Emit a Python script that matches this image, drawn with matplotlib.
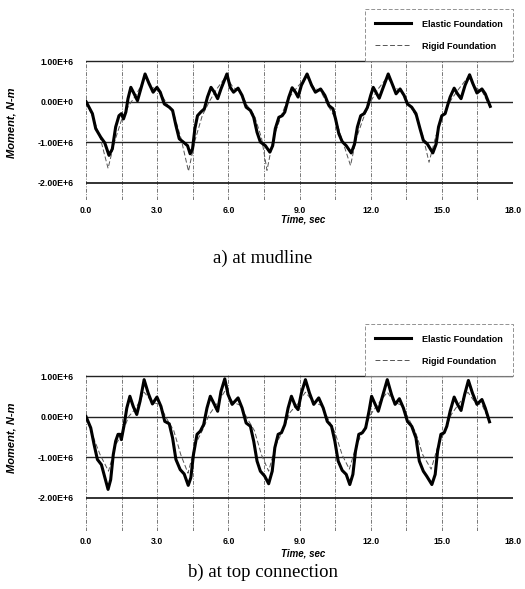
import numpy as np
import matplotlib
matplotlib.use("Agg")
import matplotlib.pyplot as plt

# ---- data (moment in 1e6 N-m) ----
t_elastic_top = [0.0, 0.27, 0.41, 0.62, 0.79, 0.97, 1.11, 1.25, 1.39, 1.49, 1.58, 1.68, 1.77, 1.89,
                 2.03, 2.17, 2.31, 2.49, 2.66, 2.83, 2.99, 3.13, 3.30, 3.51, 3.65, 3.79, 3.93, 4.10,
                 4.28, 4.39, 4.49, 4.59, 4.70, 4.84, 4.99, 5.12, 5.27, 5.41, 5.55, 5.69, 5.94, 6.08,
                 6.22, 6.41, 6.58, 6.75, 6.93, 7.07, 7.21, 7.35, 7.56, 7.75, 7.87, 7.98, 8.13, 8.27,
                 8.38, 8.55, 8.69, 8.83, 8.94, 9.08, 9.32, 9.51, 9.67, 9.89, 10.07, 10.24, 10.41,
                 10.52, 10.66, 10.80, 10.97, 11.18, 11.32, 11.44, 11.58, 11.72, 11.86, 12.0, 12.11,
                 12.36, 12.53, 12.74, 12.93, 13.07, 13.24, 13.41, 13.55, 13.73, 13.91, 14.08, 14.22,
                 14.39, 14.62, 14.76, 14.86, 15.0, 15.14, 15.24, 15.35, 15.52, 15.66, 15.81, 15.98,
                 16.17, 16.31, 16.48, 16.69, 16.83, 17.04]
m_elastic_top = [0.0, -0.30, -0.67, -0.88, -1.02, -1.33, -1.17, -0.63, -0.35, -0.30, -0.43, -0.26, 0.07,
                 0.35, 0.19, 0.02, 0.31, 0.68, 0.44, 0.23, 0.35, 0.23, -0.06, -0.14, -0.22, -0.59,
                 -0.92, -1.0, -1.09, -1.29, -1.17, -0.67, -0.35, -0.26, -0.18, 0.11, 0.35, 0.23, 0.07,
                 0.31, 0.68, 0.35, 0.23, 0.33, 0.15, -0.14, -0.22, -0.39, -0.76, -1.0, -1.09, -1.25,
                 -1.09, -0.67, -0.39, -0.35, -0.26, 0.11, 0.34, 0.23, 0.11, 0.40, 0.68, 0.40, 0.23,
                 0.31, 0.15, -0.10, -0.18, -0.43, -0.80, -0.99, -1.09, -1.27, -1.05, -0.63, -0.35,
                 -0.30, -0.15, 0.15, 0.35, 0.08, 0.35, 0.68, 0.40, 0.19, 0.31, 0.15, -0.06, -0.14,
                 -0.30, -0.67, -0.96, -1.05, -1.27, -1.05, -0.63, -0.35, -0.30, -0.10, 0.11, 0.33,
                 0.19, 0.07, 0.40, 0.66, 0.44, 0.21, 0.31, 0.19, -0.12]

t_rigid_top = [0, 0.3, 0.6, 0.93, 1.2, 1.5, 1.8, 2.1, 2.5, 2.8, 3.1, 3.4, 3.7, 4.0, 4.32, 4.6, 4.9,
               5.2, 5.5, 5.9, 6.2, 6.5, 6.8, 7.1, 7.4, 7.63, 7.9, 8.2, 8.5, 8.9, 9.3, 9.6, 9.9, 10.2,
               10.5, 10.8, 11.15, 11.4, 11.7, 12.0, 12.3, 12.7, 13.0, 13.3, 13.6, 13.9, 14.2, 14.46,
               14.75, 15.05, 15.4, 15.7, 16.1, 16.4, 16.7, 17.0]
m_rigid_top = [0, -0.4, -0.9, -1.65, -1.0, -0.45, -0.1, 0.15, 0.6, 0.35, 0.25, -0.05, -0.3, -0.9,
               -1.72, -0.95, -0.35, 0.0, 0.3, 0.62, 0.35, 0.25, -0.1, -0.35, -0.9, -1.7, -0.9, -0.4,
               0.05, 0.35, 0.62, 0.35, 0.25, -0.1, -0.4, -0.95, -1.58, -0.9, -0.4, 0.0, 0.3, 0.6,
               0.35, 0.25, -0.05, -0.35, -0.85, -1.5, -0.85, -0.35, 0.05, 0.3, 0.6, 0.35, 0.25, -0.1]

t_elastic_bot = [0.0, 0.2, 0.34, 0.48, 0.65, 0.76, 0.93, 1.04, 1.15, 1.25, 1.35, 1.44, 1.49, 1.61,
                 1.72, 1.85, 1.99, 2.14, 2.28, 2.45, 2.62, 2.80, 2.99, 3.16, 3.32, 3.51, 3.65, 3.79,
                 3.97, 4.14, 4.31, 4.42, 4.53, 4.68, 4.82, 4.96, 5.10, 5.24, 5.41, 5.55, 5.69, 5.85,
                 5.99, 6.16, 6.41, 6.58, 6.75, 6.93, 7.07, 7.21, 7.35, 7.53, 7.70, 7.85, 7.96, 8.10,
                 8.24, 8.38, 8.52, 8.66, 8.83, 8.94, 9.08, 9.25, 9.42, 9.60, 9.81, 10.0, 10.17, 10.35,
                 10.49, 10.63, 10.80, 10.97, 11.12, 11.25, 11.36, 11.50, 11.65, 11.79, 11.93, 12.04,
                 12.32, 12.50, 12.70, 12.88, 13.03, 13.21, 13.38, 13.55, 13.73, 13.91, 14.05, 14.22,
                 14.36, 14.58, 14.72, 14.82, 14.96, 15.10, 15.21, 15.35, 15.52, 15.66, 15.81, 15.96,
                 16.12, 16.29, 16.48, 16.69, 16.83, 17.01]
m_elastic_bot = [0.0, -0.28, -0.69, -1.06, -1.19, -1.43, -1.80, -1.56, -0.94, -0.61, -0.44, -0.44,
                 -0.57, -0.20, 0.21, 0.50, 0.25, 0.05, 0.38, 0.91, 0.58, 0.31, 0.48, 0.25, -0.12,
                 -0.18, -0.53, -1.06, -1.31, -1.42, -1.70, -1.51, -0.94, -0.44, -0.36, -0.20, 0.21,
                 0.50, 0.30, 0.13, 0.62, 0.93, 0.54, 0.30, 0.46, 0.21, -0.16, -0.24, -0.61, -1.10,
                 -1.35, -1.47, -1.66, -1.35, -0.77, -0.44, -0.40, -0.20, 0.21, 0.50, 0.25, 0.17,
                 0.58, 0.91, 0.58, 0.30, 0.46, 0.21, -0.12, -0.24, -0.61, -1.10, -1.33, -1.43, -1.68,
                 -1.43, -0.86, -0.44, -0.40, -0.28, 0.13, 0.50, 0.13, 0.50, 0.91, 0.54, 0.30, 0.44,
                 0.21, -0.12, -0.24, -0.53, -1.10, -1.35, -1.47, -1.68, -1.43, -0.86, -0.44, -0.40,
                 -0.24, 0.13, 0.48, 0.30, 0.15, 0.54, 0.89, 0.58, 0.30, 0.42, 0.21, -0.13]

t_rigid_bot = [0, 0.3, 0.6, 0.95, 1.25, 1.5, 1.8, 2.1, 2.45, 2.8, 3.1, 3.4, 3.7, 4.0, 4.3, 4.6, 4.9,
               5.2, 5.5, 5.85, 6.2, 6.5, 6.8, 7.1, 7.4, 7.7, 8.0, 8.3, 8.6, 8.9, 9.25, 9.6, 9.9,
               10.2, 10.5, 10.8, 11.1, 11.4, 11.7, 12.0, 12.3, 12.7, 13.0, 13.3, 13.6, 13.9, 14.2,
               14.55, 14.85, 15.1, 15.4, 15.7, 16.1, 16.4, 16.7, 17.0]
m_rigid_bot = [0, -0.5, -0.95, -1.35, -0.7, -0.45, 0.0, 0.2, 0.6, 0.35, 0.3, -0.05, -0.35, -0.95,
               -1.4, -0.7, -0.35, 0.05, 0.3, 0.62, 0.35, 0.28, -0.05, -0.35, -0.95, -1.35, -0.7,
               -0.35, 0.1, 0.3, 0.6, 0.35, 0.28, -0.05, -0.4, -0.95, -1.3, -0.7, -0.35, 0.05, 0.3,
               0.6, 0.35, 0.28, -0.05, -0.4, -0.95, -1.3, -0.7, -0.4, 0.05, 0.3, 0.6, 0.35, 0.28, -0.1]

y_ticks = [-2e6, -1e6, 0, 1e6]
y_ticklabels = ["-2.00E+6", "-1.00E+6", "0.00E+0", "1.00E+6"]
x_grid = np.arange(0, 18.01, 1.5)
x_ticklabels = ["0.0", "", "3.0", "", "6.0", "", "9.0", "", "12.0", "", "15.0", "", "18.0"]

W, H = 525, 589
fig = plt.figure(figsize=(W / 100, H / 100), dpi=100)
tick_font = dict(family="Liberation Sans", size=6.3, weight="bold")


def panel(top_px, bot_px, t_e, m_e, t_r, m_r, caption, caption_y, time_y):
    left, right = 86, 513
    ax = fig.add_axes([left / W, 1 - bot_px / H, (right - left) / W, (bot_px - top_px) / H])
    ytop = 1.025
    ybot = ytop - (bot_px - top_px) / 40.5
    ax.set_xlim(0, 18)
    ax.set_ylim(ybot * 1e6, ytop * 1e6)
    for s in ax.spines.values():
        s.set_visible(False)
    for x in x_grid:
        ax.axvline(x, color="#777777", lw=0.7, dashes=(4, 1.5, 1, 1.5), zorder=1)
    for y in y_ticks:
        ax.axhline(y, color="#222222", lw=1.3 if y == -2e6 else 1.0, zorder=1)
    ax.set_xticks(x_grid)
    ax.set_xticklabels(x_ticklabels, fontdict=tick_font)
    ax.set_yticks(y_ticks)
    ax.set_yticklabels(y_ticklabels, fontdict=tick_font)
    ax.tick_params(length=0, pad=9)
    ax.tick_params(axis="x", pad=4)

    ax.plot(np.array(t_r), np.array(m_r) * 1e6, color="#555555", lw=0.7,
            dashes=(5, 2.5), label="Rigid Foundation", zorder=2)
    ax.plot(np.array(t_e), np.array(m_e) * 1e6, color="black", lw=2.2,
            solid_joinstyle="round", label="Elastic Foundation", zorder=3)

    h, l = ax.get_legend_handles_labels()
    leg = ax.legend(h[::-1], l[::-1], loc="lower right",
                    bbox_to_anchor=(right / W, 1 - (top_px + 1) / H),
                    bbox_transform=fig.transFigure, frameon=True, fancybox=False,
                    prop=dict(family="Liberation Sans", size=6.5, weight="bold"),
                    handlelength=4.0, handletextpad=1.2, labelspacing=1.45,
                    borderpad=1.15, borderaxespad=0)
    fr = leg.get_frame()
    fr.set_edgecolor("#777777")
    fr.set_linestyle((0, (4, 2)))
    fr.set_linewidth(0.7)

    fig.text(12 / W, 1 - ((top_px + 1) + (top_px + 124)) / 2 / H, "Moment, N-m", rotation=90,
             ha="center", va="center", family="Liberation Sans", size=8,
             weight="bold", style="italic")
    fig.text(303 / W, 1 - time_y / H, "Time, sec", ha="center", va="center",
             family="Liberation Sans", size=7, weight="bold", style="italic")
    fig.text(263 / W, 1 - caption_y / H, caption, ha="center", va="center",
             family="Liberation Serif", size=13.5)
    return ax


panel(60, 200, t_elastic_top, m_elastic_top, t_rigid_top, m_rigid_top, "a) at mudline", 258, 219)
panel(375, 531, t_elastic_bot, m_elastic_bot, t_rigid_bot, m_rigid_bot, "b) at top connection", 572, 553)

fig.savefig("out.png", dpi=100)
